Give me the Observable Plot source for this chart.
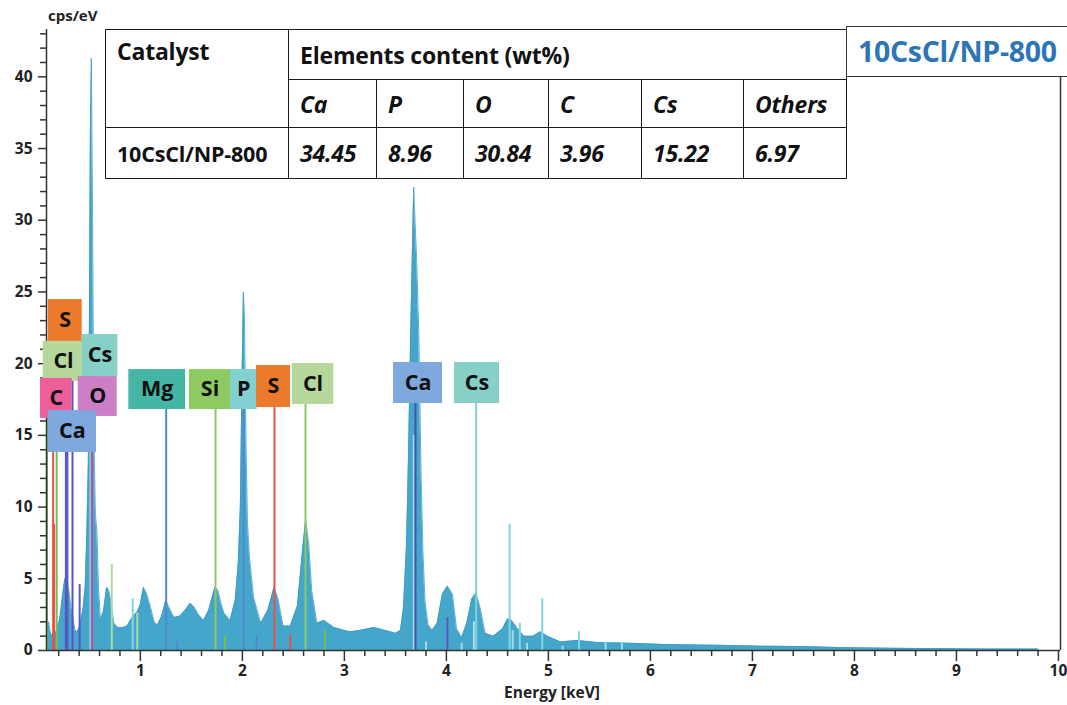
<!DOCTYPE html>
<html><head><meta charset="utf-8">
<script src="https://cdn.jsdelivr.net/npm/d3@7"></script>
<script src="https://cdn.jsdelivr.net/npm/@observablehq/plot@0.6"></script>
<style>
body{margin:0;background:#fff;font-family:"Open Sans",Lato,sans-serif;}
#wrap{position:relative;width:1067px;height:705px;overflow:hidden;background:#fff;}
#wrap svg{position:absolute;left:0;top:0;}
table.ct{position:absolute;left:105px;top:29px;border-collapse:collapse;table-layout:fixed;width:741px;background:#fff;}
table.ct td{border:1.5px solid #1a1a1a;padding:0 0 0 11px;font-weight:bold;font-size:23px;color:#111;white-space:nowrap;overflow:hidden;letter-spacing:-0.2px;}
table.ct td.it{font-style:italic;}
#tag{position:absolute;left:846px;top:26px;width:260px;height:51px;border:1.5px solid #333;background:#fff;color:#2e75b6;font-weight:bold;font-size:28.5px;line-height:48px;padding-left:11px;box-sizing:border-box;letter-spacing:-0.3px;}
#ylab{position:absolute;left:48px;top:5px;font-weight:bold;font-size:15px;color:#222;}
#xlab{position:absolute;left:0;width:1104px;top:681px;text-align:center;font-weight:bold;font-size:15.5px;color:#222;}
</style></head>
<body><div id="wrap"></div>
<script>
// ---- spectrum (energy keV, counts cps/eV) ----
const spectrumE = [0.08,0.10,0.12,0.15,0.18,0.21,0.24,0.26,0.28,0.30,0.32,0.34,0.36,0.38,0.40,0.42,0.44,0.46,0.475,0.49,0.50,0.51,0.52,0.53,0.54,0.55,0.56,0.575,0.59,0.61,0.64,0.67,0.69,0.71,0.74,0.78,0.83,0.87,0.92,0.97,1.00,1.03,1.06,1.10,1.14,1.17,1.21,1.25,1.28,1.33,1.39,1.44,1.49,1.53,1.57,1.62,1.67,1.70,1.73,1.76,1.79,1.82,1.88,1.93,1.96,1.98,1.995,2.01,2.02,2.035,2.05,2.07,2.11,2.18,2.25,2.31,2.35,2.40,2.47,2.54,2.59,2.62,2.65,2.68,2.73,2.80,2.90,3.00,3.06,3.15,3.29,3.40,3.50,3.55,3.58,3.61,3.63,3.65,3.67,3.68,3.69,3.71,3.73,3.75,3.77,3.79,3.82,3.86,3.91,3.96,4.01,4.06,4.10,4.15,4.20,4.25,4.29,4.33,4.38,4.46,4.55,4.60,4.64,4.69,4.76,4.85,4.92,4.99,5.12,5.28,5.48,5.80,6.13,6.46,6.78,7.10,7.44,7.93,8.40,8.90,9.30,9.80];
const spectrumC = [1.0,2.0,1.2,1.0,1.4,2.2,4.0,5.0,4.8,4.2,3.0,2.2,1.4,1.3,1.6,2.2,3.0,4.5,8.0,13,22,35.9,41.3,32,20,13,9.5,8.2,4.4,2.1,2.8,4.4,4.2,3.5,1.9,1.6,1.6,1.7,2.3,2.7,3.2,4.4,4.0,3.0,1.9,1.8,2.4,3.5,3.0,2.3,2.4,2.8,3.3,3.0,2.5,2.1,2.8,3.6,4.4,4.2,3.3,2.6,2.1,3.5,6.1,10,18,25,23.5,15,9,6.5,3.7,1.9,2.8,4.4,3.6,1.7,1.7,3.1,7.0,9.1,7.5,4.2,1.9,2.1,1.6,1.4,1.3,1.4,1.6,1.4,1.2,1.4,3.0,7.5,14,22,29,32.3,30.5,27,22,13,7,3.5,1.8,1.4,1.9,3.9,4.5,3.9,1.5,0.9,1.9,3.6,4.0,3.0,1.2,1.0,1.5,2.2,2.1,1.6,1.0,1.0,1.3,1.0,0.6,0.7,0.55,0.5,0.42,0.38,0.35,0.3,0.28,0.2,0.15,0.13,0.1,0.1];

// ---- element marker lines (energy, height, colour) ----
const lineE   = [0.085,0.145,0.155,0.18,0.27,0.285,0.335,0.405,0.51,0.525,0.72,0.925,0.97,1.36,1.83,2.14,2.47,2.81,3.68,3.80,4.01,4.15,4.27,4.62,4.65,4.72,4.79,4.94,5.14,5.30,5.56,5.72];
const lineTop = [17.5,15,8.8,15,19,19,19,4.6,15,15,6.0,3.6,2.6,0.6,1.0,1.1,1.1,1.4,15,0.6,2.3,0.5,2.0,8.8,1.4,1.9,0.5,3.6,0.3,1.3,0.6,0.5];
const lineCol = ["#6fc04f","#e8504a","#e8504a","#6fc04f","#5a55c0","#5a55c0","#5a55c0","#5a55c0","#7fd6df","#c94a9c","#a9dba0","#7fd6df","#a9dba0","#4f8ad0","#6fc04f","#4f8ad0","#e8504a","#6fc04f","#9fdde6","#9fdde6","#5a55c0","#9fdde6","#9fdde6","#7fd6df","#9fdde6","#7fd6df","#9fdde6","#7fd6df","#9fdde6","#7fd6df","#9fdde6","#9fdde6"];

// ---- labelled element lines ----
const keyE   = [1.253,1.737,2.013,2.315,2.619,3.697,4.292];
const keyTop = [16.8,16.8,16.8,16.94,17.15,17.22,17.22];
const keyCol = ["#4f8ad0","#8cc864","#4f8ad0","#e8504a","#8cc864","#4a4fb0","#7fd0d8"];

// ---- element label boxes ----
const boxLabel = ["S","Cl","Cs","C","O","Ca","Mg","Si","P","S","Cl","Ca","Cs"];
const boxX1 = [0.097,0.048,0.430,0.021,0.391,0.097,0.887,1.482,1.884,2.139,2.489,3.482,4.080];
const boxX2 = [0.430,0.446,0.779,0.332,0.773,0.570,1.443,1.884,2.145,2.472,2.896,3.962,4.521];
const boxY1 = [21.55,18.76,19.10,16.18,16.32,13.81,16.80,16.80,16.80,16.94,17.15,17.22,17.22];
const boxY2 = [24.47,21.55,22.03,18.97,19.10,16.73,19.59,19.59,19.59,19.87,20.01,20.08,20.08];
const boxFill = ["#ec7a2d","#b6d89c","#86d0c8","#ec5f9a","#cc7fc4","#7ea8de","#45b6a5","#8dcb62","#82d0d0","#ec7a2d","#b6d89c","#7ea8de","#86d0c8"];

// ---- axes ----
const xMajor = [1,2,3,4,5,6,7,8,9,10];
const yMajor = [0,5,10,15,20,25,30,35,40];

// ---- table ----
const catalyst = "10CsCl/NP-800";
const tableElements = ["Ca","P","O","C","Cs","Others"];
const tableValues = ["34.45","8.96","30.84","3.96","15.22","6.97"];

const spectrum = spectrumE.map((e,i)=>({e, c: spectrumC[i]}));
const lines = lineE.map((e,i)=>({e, top: lineTop[i], col: lineCol[i]}));
const keys = keyE.map((e,i)=>({e, top: keyTop[i], col: keyCol[i]}));
const boxes = boxLabel.map((l,i)=>({l, x1: boxX1[i], x2: boxX2[i], y1: boxY1[i], y2: boxY2[i], f: boxFill[i]}));
const xMinor = d3.range(2, 100, 2).map(d=>d/10).filter(d=>!xMajor.includes(d));
const yMinor = d3.range(1, 44).filter(d=>d%5!==0);

const font = "'Open Sans', Lato, sans-serif";
const chart = Plot.plot({
  width: 1067, height: 705,
  marginLeft: 46, marginRight: 7, marginTop: 29, marginBottom: 55,
  x: {domain: [0.08, 10.02]},
  y: {domain: [0, 43.3]},
  color: {type: "identity"},
  style: {fontFamily: font, background: "transparent", overflow: "visible", color: "#222"},
  marks: [
    Plot.areaY(spectrum, {x: "e", y: "c", fill: "#45a6cc"}),
    Plot.lineY(spectrum, {x: "e", y: "c", stroke: "#3b9bc3", strokeWidth: 0.8}),
    Plot.ruleX(lines, {x: "e", y1: 0, y2: "top", stroke: "col", strokeWidth: 2}),
    Plot.ruleX(keys, {x: "e", y1: 0, y2: "top", stroke: "col", strokeWidth: 2}),
    Plot.axisX(xMinor, {tickSize: 6, tickFormat: () => "", label: null, stroke: "#333", strokeWidth: 1.5}),
    Plot.axisX(xMajor, {tickSize: 11, tickPadding: 3, tickFormat: d => String(d), label: null, fontSize: 15.5, fontWeight: "bold", stroke: "#333", strokeWidth: 1.5}),
    Plot.axisY(yMinor, {tickSize: 6, tickFormat: () => "", label: null, stroke: "#333", strokeWidth: 1.5}),
    Plot.axisY(yMajor, {tickSize: 8, tickPadding: 6, label: null, fontSize: 15.5, fontWeight: "bold", stroke: "#333", strokeWidth: 1.5}),
    Plot.ruleY([0], {stroke: "#333", strokeWidth: 1.5}),
    Plot.ruleX([0.08], {y1: 0, y2: 43.3, stroke: "#333", strokeWidth: 1.5}),
    Plot.ruleX([10.02], {y1: 0, y2: 39.95, stroke: "#333", strokeWidth: 1.5}),
    Plot.rect(boxes, {x1: "x1", x2: "x2", y1: "y1", y2: "y2", fill: "f"}),
    Plot.text(boxes, {x: d => (d.x1 + d.x2) / 2, y: d => (d.y1 + d.y2) / 2, text: "l", fontSize: 21.5, fontWeight: "bold", fill: "#111"})
  ]
});
const wrap = document.getElementById("wrap");
wrap.appendChild(chart);

// table
const widths = [183, 88, 87, 85, 93, 102, 103];
let html = '<table class="ct"><colgroup>' + widths.map(w => `<col style="width:${w}px">`).join("") + '</colgroup>';
html += `<tr style="height:50px"><td rowspan="2" style="vertical-align:top;padding-top:5px">Catalyst</td><td colspan="6">Elements content (wt%)</td></tr>`;
html += '<tr style="height:48px">' + tableElements.map(e => `<td class="it">${e}</td>`).join("") + '</tr>';
html += `<tr style="height:51px"><td style="font-size:21.5px">${catalyst}</td>` + tableValues.map(v => `<td class="it">${v}</td>`).join("") + '</tr></table>';
wrap.insertAdjacentHTML("beforeend", html);
wrap.insertAdjacentHTML("beforeend", `<div id="tag">${catalyst}</div><div id="ylab">cps/eV</div><div id="xlab">Energy [keV]</div>`);
</script></body></html>
